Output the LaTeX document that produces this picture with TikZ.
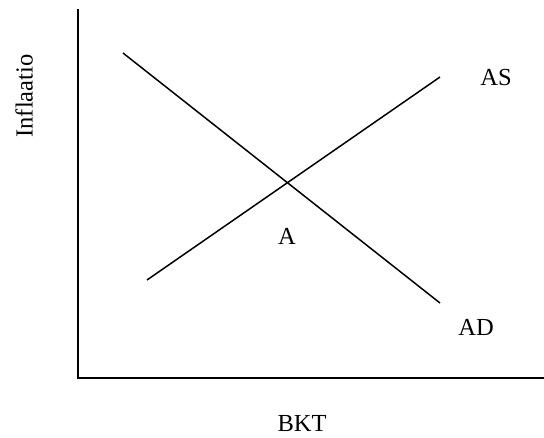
\documentclass[tikz,border=0pt]{standalone}
\usepackage{fontspec}
\setmainfont{Liberation Serif}
\usepackage{tikz}
\usetikzlibrary{positioning}

\begin{document}
\begin{tikzpicture}[x=1pt, y=-1pt,
    lbl/.style={font=\fontsize{24.5}{28}\selectfont, inner sep=0pt},
    curve/.style={line width=1.5pt}]
    \useasboundingbox (0,0) rectangle (544,437);

    % axes
    \coordinate (top) at (78,9);
    \coordinate (origin) at (78,378);
    \coordinate (right) at (544,378);
    \draw[line width=2pt] (top) -- (origin) -- (right);

    % demand and supply
    \coordinate (ad start) at (123,53);
    \coordinate (ad end) at (440,303);
    \coordinate (as start) at (147,280);
    \coordinate (as end) at (440,77);
    \draw[curve] (ad start) -- (ad end);
    \draw[curve] (as start) -- (as end);

    \node[lbl] (as) at (496,78) {AS};
    \node[lbl] (ad) at (476,327) {AD};
    \node[lbl] (a) at (287,236) {A};
    \node[lbl] (bkt) at (302,424) {BKT};
    \node[lbl, rotate=90] (inflaatio) at (24,96) {Inflaatio};
\end{tikzpicture}
\end{document}
